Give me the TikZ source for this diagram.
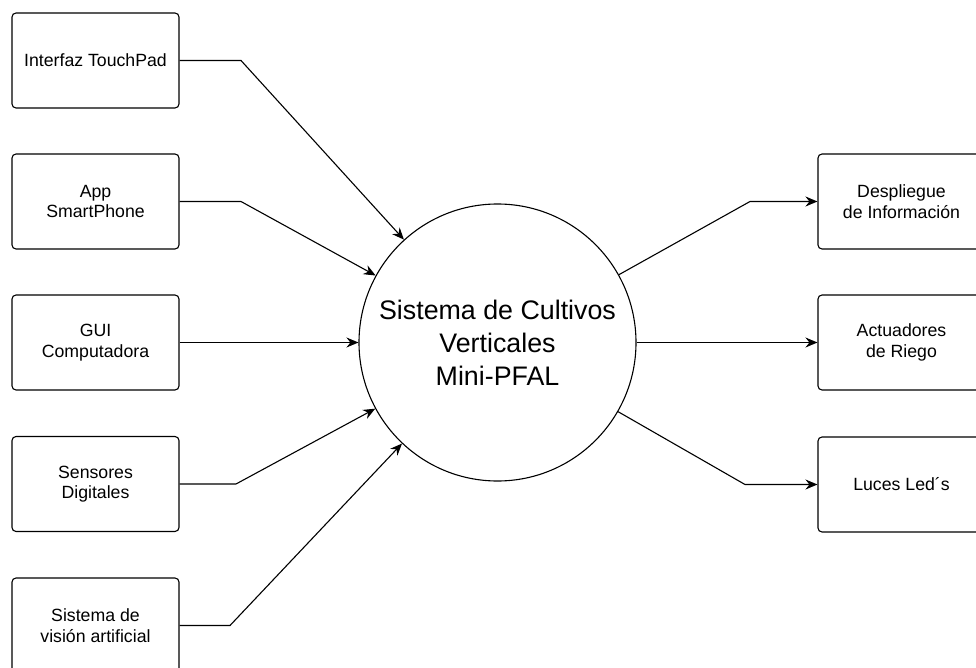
\documentclass[tikz,border=0pt]{standalone}
\usepackage{fontspec}
\setmainfont{Liberation Sans}
\usetikzlibrary{arrows.meta,positioning,shapes.geometric}

\begin{document}
\begin{tikzpicture}[x=1pt, y=-1pt,
    box/.style={draw, rounded corners=4pt, line width=1.1pt, minimum width=167pt,
        minimum height=95pt, align=center, font=\fontsize{17.7}{20.5}\selectfont},
    flow/.style={-{Stealth[length=12pt,width=10pt,inset=4pt]}, line width=1.1pt}]
    \useasboundingbox (0,0) rectangle (976,668);

    % Inputs
    \node[box] (touch) at (95.5,60.5) {Interfaz TouchPad};
    \node[box] (app) at (95.5,201.5) {App\\SmartPhone};
    \node[box] (gui) at (95.5,342.5) {GUI\\Computadora};
    \node[box] (sens) at (95.5,484) {Sensores\\Digitales};
    \node[box] (vision) at (95.5,625.5) {Sistema de\\visión artificial};

    % System
    \node[circle, draw, line width=1.1pt, inner sep=0pt, minimum size=277pt,
        align=center, font=\fontsize{26.8}{33}\selectfont] (sys) at (497.5,342.5)
        {Sistema de Cultivos\\Verticales\\Mini-PFAL};

    % Outputs
    \node[box] (disp) at (901.5,201.5) {Despliegue\\de Información};
    \node[box] (riego) at (901.5,342.5) {Actuadores\\de Riego};
    \node[box] (leds) at (901.5,484.5) {Luces Led´s};

    % Bends
    \coordinate (k1) at (241,60.5);
    \coordinate (k2) at (241,201.5);
    \coordinate (k4) at (236,484);
    \coordinate (k5) at (230,625.5);
    \coordinate (k6) at (750,201.5);
    \coordinate (k8) at (745,484.5);

    % Connectors
    \draw[flow] (touch.east) -- (k1) -- (sys);
    \draw[flow] (app.east) -- (k2) -- (sys);
    \draw[flow] (gui) -- (sys);
    \draw[flow] (sens.east) -- (k4) -- (sys);
    \draw[flow] (vision.east) -- (k5) -- (sys);
    \draw[flow] (sys) -- (k6) -- (disp.west);
    \draw[flow] (sys) -- (riego);
    \draw[flow] (sys) -- (k8) -- (leds.west);
\end{tikzpicture}
\end{document}
